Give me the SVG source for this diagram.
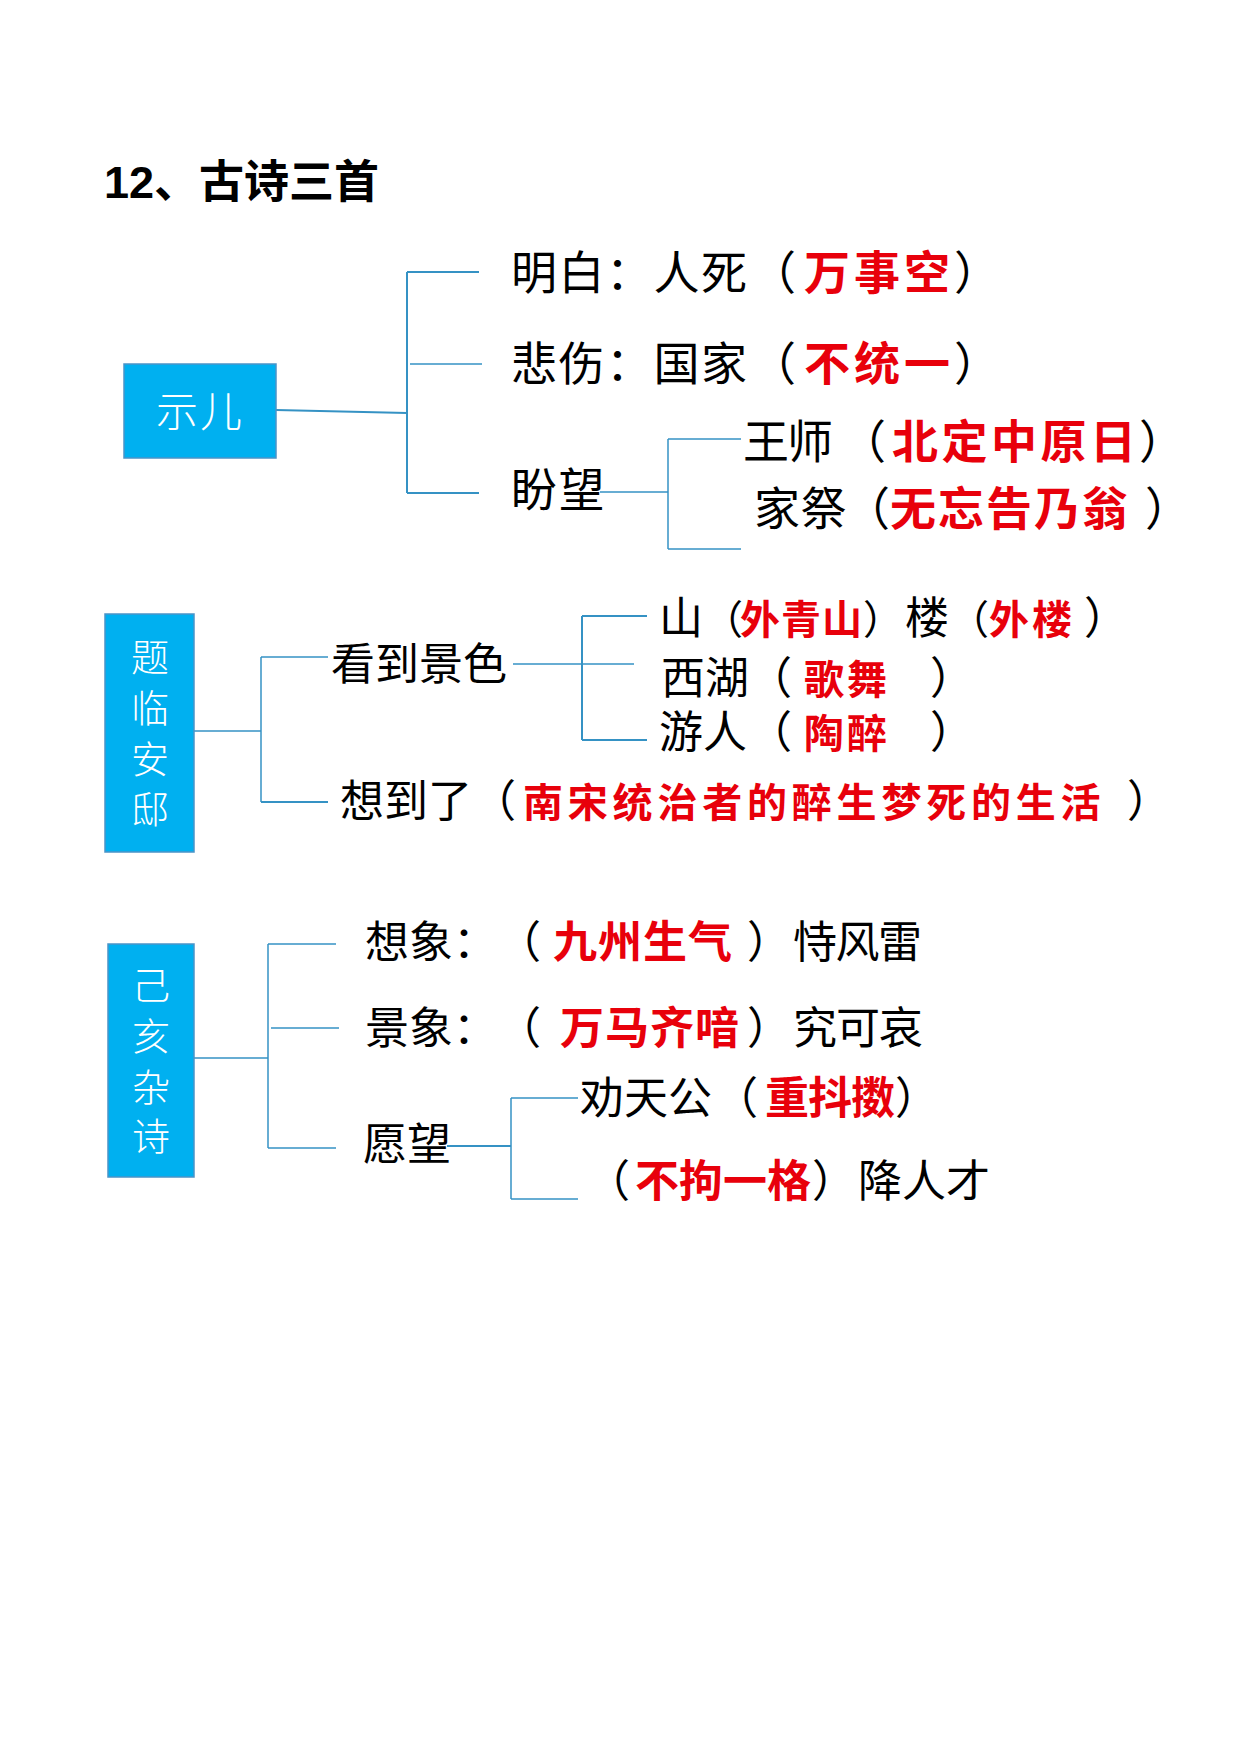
<svg xmlns="http://www.w3.org/2000/svg" width="1240" height="1754" viewBox="0 0 1240 1754">
<style>
text{font-family:"Noto Sans CJK SC","Liberation Sans",sans-serif;}
.title{font-family:"Liberation Sans","Noto Sans CJK SC",sans-serif;font-weight:bold;font-size:45px;fill:#000;}
.b46{font-size:46px;fill:#000;}
.b44{font-size:44px;fill:#000;}
.b40{font-size:40px;fill:#000;}
.r46{font-size:46px;fill:#E8000B;font-weight:bold;}
.r44{font-size:44px;fill:#E8000B;font-weight:bold;}
.r40{font-size:40px;fill:#E8000B;font-weight:bold;}
.box{fill:#00B0F0;stroke:#4A94C8;stroke-width:1.5;}
.bt{fill:#FFFFFF;font-weight:300;}
.conn line{stroke:#3592C4;stroke-width:2;fill:none;}
</style>
<rect width="1240" height="1754" fill="#FFFFFF"/>
<text class="title" x="104" y="198">12、古诗三首</text>

<g class="conn" id="connectors">
<line x1="276" y1="410" x2="407" y2="413"/>
<line x1="407" y1="272" x2="407" y2="493"/>
<line x1="407" y1="272" x2="479" y2="272"/>
<line x1="410" y1="364" x2="482" y2="364" style="stroke-width:1.5"/>
<line x1="407" y1="493" x2="479" y2="493"/>
<line x1="600" y1="492" x2="668" y2="492" style="stroke-width:1.5"/>
<line x1="668" y1="439" x2="668" y2="549" style="stroke-width:1.5"/>
<line x1="668" y1="439" x2="741" y2="439" style="stroke-width:1.5"/>
<line x1="668" y1="549" x2="741" y2="549" style="stroke-width:1.5"/>

<line x1="194" y1="731" x2="261" y2="731" style="stroke-width:1.5"/>
<line x1="261" y1="657" x2="261" y2="802" style="stroke-width:1.5"/>
<line x1="261" y1="657" x2="328" y2="657" style="stroke-width:1.5"/>
<line x1="261" y1="802" x2="328" y2="802"/>
<line x1="513" y1="664" x2="634" y2="664" style="stroke-width:1.5"/>
<line x1="582" y1="616" x2="582" y2="740"/>
<line x1="582" y1="616" x2="647" y2="616"/>
<line x1="582" y1="740" x2="647" y2="740"/>

<line x1="194" y1="1058" x2="268" y2="1058" style="stroke-width:1.5"/>
<line x1="268" y1="944" x2="268" y2="1148" style="stroke-width:1.5"/>
<line x1="268" y1="944" x2="336" y2="944" style="stroke-width:1.5"/>
<line x1="271" y1="1028" x2="339" y2="1028" style="stroke-width:1.5"/>
<line x1="268" y1="1148" x2="336" y2="1148" style="stroke-width:1.5"/>
<line x1="447" y1="1146" x2="511" y2="1146"/>
<line x1="511" y1="1098" x2="511" y2="1199" style="stroke-width:1.5"/>
<line x1="511" y1="1098" x2="578" y2="1098" style="stroke-width:1.5"/>
<line x1="511" y1="1199" x2="578" y2="1199" style="stroke-width:1.5"/>
</g>

<g id="node-shier">
<rect class="box" x="124" y="364" width="152" height="94"/>
<text class="bt" x="200" y="427" font-size="42" text-anchor="middle" letter-spacing="2">示儿</text>
</g>
<g id="node-mingbai">
<text y="289"><tspan class="b46" x="511" letter-spacing="1.5">明白：人死</tspan><tspan class="b46" x="750">（</tspan><tspan class="r46" x="804" letter-spacing="4">万事空</tspan><tspan class="b46" x="954">）</tspan></text>
</g>
<g id="node-beishang">
<text y="380"><tspan class="b46" x="511" letter-spacing="1.5">悲伤：国家</tspan><tspan class="b46" x="750">（</tspan><tspan class="r46" x="804" letter-spacing="4">不统一</tspan><tspan class="b46" x="954">）</tspan></text>
</g>
<g id="node-panwang">
<text class="b46" x="511" y="506" letter-spacing="1.5">盼望</text>
</g>
<g id="node-wangshi">
<text y="458"><tspan class="b46" x="743" letter-spacing="-2">王师</tspan><tspan class="b46" x="840">（</tspan><tspan class="r46" x="892" letter-spacing="3.5">北定中原日</tspan><tspan class="b46" x="1139">）</tspan></text>
</g>
<g id="node-jiaji">
<text y="525"><tspan class="b46" x="754" letter-spacing="0.6">家祭</tspan><tspan class="b46" x="844">（</tspan><tspan class="r46" x="890" letter-spacing="2">无忘告乃翁</tspan><tspan class="b46" x="1145">）</tspan></text>
</g>

<g id="node-tilinanandi">
<rect class="box" x="105" y="614" width="89" height="238"/>
<text class="bt" font-size="38" text-anchor="middle"><tspan x="150" y="671">题</tspan><tspan x="150" y="722">临</tspan><tspan x="150" y="773">安</tspan><tspan x="150" y="823">邸</tspan></text>
</g>
<g id="node-kandaojingse">
<text class="b44" x="331" y="680">看到景色</text>
</g>
<g id="node-shanlou">
<text y="634"><tspan class="b44" x="659">山</tspan><tspan class="b40" x="703">（</tspan><tspan class="r40" x="740" letter-spacing="1">外青山</tspan><tspan class="b40" x="863">）</tspan><tspan class="b44" x="905">楼</tspan><tspan class="b40" x="949">（</tspan><tspan class="r40" x="989" letter-spacing="3">外楼</tspan><tspan class="b44" x="1084">）</tspan></text>
</g>
<g id="node-xihu">
<text y="694"><tspan class="b44" x="661">西湖</tspan><tspan class="b44" x="748">（</tspan><tspan class="r40" x="804" letter-spacing="3">歌舞</tspan><tspan class="b44" x="930">）</tspan></text>
</g>
<g id="node-youren">
<text y="748"><tspan class="b44" x="659">游人</tspan><tspan class="b44" x="748">（</tspan><tspan class="r40" x="804" letter-spacing="3">陶醉</tspan><tspan class="b44" x="930">）</tspan></text>
</g>
<g id="node-xiangdaole">
<text y="817"><tspan class="b44" x="340">想到了</tspan><tspan class="b44" x="472">（</tspan><tspan class="r40" x="523" letter-spacing="4.8">南宋统治者的醉生梦死的生活</tspan><tspan class="b44" x="1127">）</tspan></text>
</g>

<g id="node-jihaizashi">
<rect class="box" x="108" y="944" width="86" height="233"/>
<text class="bt" font-size="38" text-anchor="middle"><tspan x="151" y="999">己</tspan><tspan x="151" y="1050">亥</tspan><tspan x="151" y="1101">杂</tspan><tspan x="151" y="1150">诗</tspan></text>
</g>
<g id="node-xiangxiang">
<text y="958"><tspan class="b44" x="365">想象：</tspan><tspan class="b44" x="497">（</tspan><tspan class="r44" x="553" letter-spacing="1">九州生气</tspan><tspan class="b44" x="747">）</tspan><tspan class="b44" x="793" letter-spacing="-1.5">恃风雷</tspan></text>
</g>
<g id="node-jingxiang">
<text y="1044"><tspan class="b44" x="365">景象：</tspan><tspan class="b44" x="497">（</tspan><tspan class="r44" x="560" letter-spacing="1">万马齐喑</tspan><tspan class="b44" x="747">）</tspan><tspan class="b44" x="793" letter-spacing="-1">究可哀</tspan></text>
</g>
<g id="node-yuanwang">
<text class="b44" x="363" y="1160">愿望</text>
</g>
<g id="node-quantiangong">
<text y="1114"><tspan class="b44" x="580">劝天公</tspan><tspan class="b44" x="714">（</tspan><tspan class="r44" x="765" letter-spacing="-1">重抖擞</tspan><tspan class="b44" x="895">）</tspan></text>
</g>
<g id="node-bujuyige">
<text y="1197"><tspan class="b44" x="586">（</tspan><tspan class="r44" x="635">不拘一格</tspan><tspan class="b44" x="812">）</tspan><tspan class="b44" x="858">降人才</tspan></text>
</g>
</svg>
